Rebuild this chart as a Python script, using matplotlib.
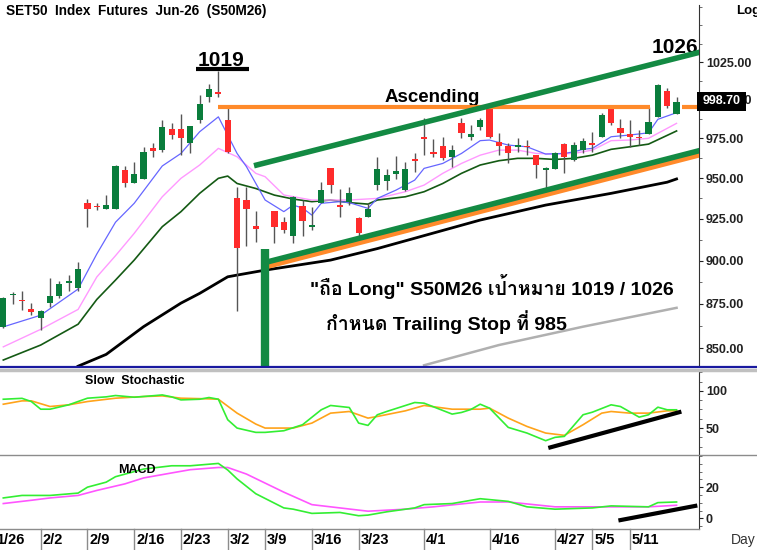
import numpy as np
import matplotlib
matplotlib.use("Agg")
import matplotlib.pyplot as plt
import matplotlib.transforms as mtransforms
from matplotlib import font_manager, ft2font
from matplotlib.patches import Rectangle
from matplotlib.lines import Line2D

nan = np.nan

# ---- candles, x = trading-day index (0 = first bar shown) ----
opens = [861.8, 879.8, 876.9, 872.2, 866.7, 875.3, 879.2, 887.2, 883.9, 934.9,
         932.6, 930.8, 930.8, 955.1, 947.1, 949.2, 969.1, 967.6, 980.9, 980.9,
         972.3, 986.8, 1001.6, 1005.1, 986.8, 937.9, 936.5, 920.7, nan, 930.0,
         923.3, 914.7, 932.8, 919.9, 934.5, 956.1, 933.4, 935.5, 925.3, 925.9,
         945.7, 948.4, 952.6, 942.6, 961.3, 975.7, 966.2, 970.1, 963.4, 984.6,
         976.1, 982.1, 994.4, 972.9, 970.1, 969.8, 970.4, 964.4, 955.1, 955.5,
         971.3, 961.3, 967.6, 972.3, 976.1, 994.4, 981.9, 977.6, 976.1, 977.8,
         989.1, 1005.9, 990.7]
highs = [879.0, 882.0, 882.5, 875.7, 871.2, 889.9, 888.0, 891.6, 899.4, 937.1,
         934.5, 939.5, 958.2, 957.6, 959.9, 969.4, 971.9, 986.8, 984.7, 990.5,
         983.1, 1003.1, 1010.2, 1019.0, 994.4, 944.6, 944.6, 930.0, nan, 930.0,
         926.3, 938.9, 936.5, 932.2, 947.7, 956.5, 943.0, 944.3, 926.3, 934.9,
         963.2, 955.9, 963.6, 960.0, 965.5, 987.9, 974.4, 976.1, 970.8, 987.9,
         983.7, 987.9, 995.5, 978.3, 971.9, 975.1, 974.0, 964.4, 957.2, 966.5,
         971.9, 972.9, 975.1, 979.3, 991.1, 995.9, 987.3, 986.8, 980.4, 995.1,
         1010.5, 1007.5, 1002.0]
lows = [861.0, 874.9, 871.4, 868.6, 860.1, 873.3, 878.2, 882.5, 882.5, 919.9,
        930.4, 930.8, 930.8, 944.6, 947.1, 949.2, 963.3, 966.5, 974.4, 964.8,
        965.5, 984.7, 998.6, 1002.0, 965.5, 871.0, 908.7, 911.3, nan, 910.3,
        916.3, 910.3, 914.7, 918.3, 934.5, 940.6, 926.3, 933.4, 913.3, 925.9,
        942.6, 942.6, 949.2, 941.8, 954.0, 964.4, 963.2, 961.1, 956.8, 975.1,
        974.0, 980.4, 975.5, 964.3, 959.2, 966.5, 964.3, 949.9, 943.0, 955.5,
        953.4, 960.9, 965.5, 966.5, 976.1, 983.5, 975.1, 969.7, 970.8, 977.8,
        989.1, 994.4, 990.7]
closes = [878.3, 880.3, 876.4, 870.3, 870.8, 879.5, 886.4, 887.8, 895.1, 930.8,
          932.2, 933.3, 957.7, 946.7, 952.4, 966.2, 967.2, 982.5, 977.2, 975.1,
          983.1, 997.0, 1007.1, 1003.8, 966.5, 907.5, 930.8, 918.9, nan, 920.1,
          918.3, 938.5, 923.9, 921.1, 942.6, 945.7, 932.0, 940.6, 916.3, 930.8,
          955.5, 951.8, 954.3, 955.9, 960.9, 974.4, 965.3, 962.4, 967.6, 978.3,
          977.8, 986.8, 976.1, 970.4, 965.5, 970.4, 969.4, 958.2, 956.2, 965.9,
          963.4, 970.8, 973.6, 970.8, 990.0, 985.0, 978.3, 976.1, 975.1, 985.8,
          1009.6, 995.9, 998.7]

# moving averages (index, value) read at sample points
ma_blue_x = [0, 4, 8, 10, 12, 14, 17, 19, 21, 23, 25, 26, 28, 30, 31, 32, 33, 34, 36,
             37, 39, 40, 42, 44, 45, 47, 49, 51, 52, 54, 56, 58, 60, 61, 62, 63, 65,
             67, 69, 70, 72]
ma_blue = [861.9, 868.5, 883.5, 904.0, 923.0, 934.5, 957.6, 965.5, 979.3, 988.9,
           965.5, 957.2, 936.5, 929.4, 933.4, 931.6, 927.3, 934.5, 935.5, 934.9,
           931.4, 937.5, 942.6, 948.8, 956.1, 959.2, 965.5, 973.6, 974.0, 970.8,
           969.7, 965.1, 965.5, 966.5, 968.1, 968.7, 976.1, 977.2, 978.6, 987.3,
           991.6]
ma_pink_x = [0, 4, 8, 10, 12, 14, 17, 19, 21, 23, 25, 27, 28, 30, 33, 35, 37, 40, 43,
             45, 47, 49, 51, 53, 55, 57, 59, 61, 63, 65, 67, 69, 72]
ma_pink = [850.7, 860.5, 871.8, 890.5, 903.0, 916.3, 938.5, 949.9, 958.2, 968.7,
           963.4, 953.0, 950.9, 939.6, 936.5, 936.5, 936.5, 937.5, 941.6, 945.7,
           953.0, 959.2, 964.4, 967.6, 967.6, 965.5, 965.1, 965.5, 967.6, 973.6,
           974.0, 975.1, 984.7]
ma_dgreen_x = [0, 4, 8, 10, 12, 14, 17, 19, 21, 23, 24, 25, 27, 29, 31, 33, 35, 37, 39,
               40, 43, 45, 47, 49, 51, 53, 55, 57, 59, 61, 63, 65, 67, 69, 72]
ma_dgreen = [843.4, 851.7, 863.4, 877.5, 888.7, 900.4, 920.3, 929.4, 940.6, 949.9,
             951.3, 946.7, 943.6, 939.5, 937.1, 935.5, 936.5, 934.9, 934.0, 936.5,
             938.5, 941.6, 946.7, 953.0, 958.2, 960.9, 962.4, 962.4, 961.7, 962.4,
             964.4, 968.1, 969.7, 971.4, 979.8]
ma_black_x = [8, 11, 15, 19, 21, 24, 25, 28, 35, 40, 51, 58, 65, 71, 72]
ma_black = [840.0, 846.5, 862.0, 875.4, 881.0, 890.6, 891.6, 894.5, 900.4, 907.2,
            924.3, 933.4, 940.6, 947.5, 949.5]
ma_gray_x = [45, 53, 62, 72]
ma_gray = [840.5, 851.7, 862.0, 872.7]

# trend lines / levels drawn on the chart
upper_x, upper_y = [27.1, 74.4], [958.2, 1031.5]
lower_x, lower_y = [28.3, 74.4], [899.4, 967.2]
lower_or_y = [896.9, 964.6]
resist_x, resist_y = [23.0, 69.2], [995.5, 995.5]
resist2_x = [72.6, 74.4]
marker_x, marker_top = 28, 906.8
peak_x, peak_y = [20.6, 26.3], 1020.3
last_price = 998.70

# slow stochastic
stk_x = [0, 2, 3, 4, 5, 7, 9, 11, 12, 14, 16, 17, 18, 19, 21, 22, 23, 24, 25, 27, 28,
         30, 32, 34, 35, 37, 38, 39, 40, 41, 44, 45, 48, 49, 50, 51, 52, 54, 56, 58,
         59, 60, 62, 63, 65, 66, 68, 69, 70, 71, 72]
stk_k = [88.8, 90.0, 85.7, 75.4, 75.4, 81.3, 90.2, 92.0, 93.8, 91.5, 93.5, 94.6, 92.0,
         87.9, 88.8, 91.1, 88.8, 61.2, 50.0, 44.2, 44.2, 46.4, 54.5, 74.6, 80.4, 77.7,
         56.7, 53.6, 67.9, 72.3, 84.4, 83.5, 68.8, 71.0, 75.0, 82.1, 76.8, 50.9, 43.3,
         33.0, 37.5, 38.8, 67.9, 71.4, 81.3, 79.0, 64.7, 67.9, 78.1, 74.6, 74.6]
std_x = [0, 2, 3, 5, 7, 9, 12, 15, 17, 19, 22, 23, 25, 27, 28, 31, 33, 35, 37, 39, 40,
         43, 45, 48, 51, 52, 54, 56, 58, 60, 62, 64, 65, 67, 69, 71, 72]
std_d = [82.1, 86.6, 86.6, 79.0, 81.3, 85.7, 90.2, 92.4, 93.3, 90.2, 89.3, 88.8, 70.1,
         55.4, 50.0, 50.0, 56.7, 70.1, 72.3, 63.4, 65.6, 73.2, 80.4, 75.4, 75.4, 76.8,
         63.4, 52.2, 43.3, 40.2, 54.5, 70.1, 72.3, 70.1, 70.1, 73.2, 73.2]
stoch_tl_x, stoch_tl_y = [58.5, 72.3], [24.0, 71.4]

# MACD
macd_x = [0, 2, 5, 8, 9, 11, 12, 15, 18, 20, 23, 24, 25, 27, 30, 31, 33, 36, 38, 39,
          41, 44, 45, 48, 51, 54, 56, 59, 63, 65, 69, 70, 72]
macd = [13.1, 14.7, 14.7, 16.2, 20.0, 23.2, 26.7, 31.6, 33.7, 33.7, 35.2, 31.0, 25.3,
        15.8, 6.7, 5.9, 3.2, 3.8, 1.7, 2.1, 4.2, 6.7, 8.8, 9.5, 12.6, 10.9, 7.4, 5.9,
        6.7, 8.0, 7.4, 10.1, 10.5]
sig_x = [0, 3, 5, 8, 10, 13, 15, 18, 20, 23, 24, 26, 30, 33, 36, 39, 43, 46, 51, 54,
         59, 64, 69, 72]
sig = [9.5, 11.6, 13.1, 14.7, 17.9, 22.1, 25.9, 29.1, 31.2, 32.6, 32.6, 28.4, 16.8,
       8.8, 6.7, 4.6, 5.9, 7.4, 10.5, 10.5, 7.4, 7.4, 7.4, 8.4]
macd_tl_x, macd_tl_y = [66, 74], [-1.1, 8.0]

# date axis
date_idx = [-1, 4, 9, 14, 19, 24, 28, 33, 38, 45, 52, 59, 63, 67]
date_lbl = ['1/26', '2/2', '2/9', '2/16', '2/23', '3/2', '3/9', '3/16', '3/23',
            '4/1', '4/16', '4/27', '5/5', '5/11']
price_ticks = [850, 875, 900, 925, 950, 975, 1000, 1025]


def find_thai():
    for f in font_manager.fontManager.ttflist:
        try:
            if 0x0E16 in ft2font.FT2Font(f.fname).get_charmap():
                return f.name
        except Exception:
            pass
    return 'DejaVu Sans'


thai = find_thai()
plt.rcParams['font.family'] = ['Liberation Sans', thai, 'DejaVu Sans']

W, H = 757, 550
fig = plt.figure(figsize=(W / 100, H / 100), dpi=100)
fig.patch.set_facecolor('white')


def box(top, bottom):
    return [0, 1 - bottom / H, 699 / W, (bottom - top) / H]


ax = fig.add_axes(box(5, 366))
ax_s = fig.add_axes(box(371, 454))
ax_m = fig.add_axes(box(455, 529))
XL = (-0.353, 74.4)

GREEN = '#0a7d3c'
RED = '#ff2b2b'
TL_GREEN = '#138a43'
ORANGE = '#ff8a2a'

for a in (ax, ax_s, ax_m):
    a.set_xlim(*XL)
    for s in ('top', 'left', 'bottom'):
        a.spines[s].set_visible(False)
    a.spines['right'].set_color('#333333')
    a.set_xticks([])
    a.yaxis.tick_right()
    a.tick_params(axis='y', which='major', length=3, pad=2, labelsize=9, colors='#222222')
    a.tick_params(axis='y', which='minor', length=2, color='#555555')
    a.patch.set_alpha(0)

# ---- main price panel ----
ax.set_yscale('log')
ax.set_ylim(840.1, 1064)
ax.yaxis.set_major_locator(matplotlib.ticker.FixedLocator(price_ticks))
ax.yaxis.set_minor_locator(matplotlib.ticker.FixedLocator(np.arange(850, 1065, 12.5)))
ax.yaxis.set_minor_formatter(matplotlib.ticker.NullFormatter())
ax.set_yticklabels(['%.2f' % v for v in price_ticks], fontweight='bold')

o = np.array(opens); hi = np.array(highs); lo = np.array(lows); c = np.array(closes)
idx = np.arange(len(o))
ok = ~np.isnan(o)
ax.vlines(idx[ok], lo[ok], hi[ok], color='#555555', lw=1, zorder=3)
up = ok & (c >= o)
dn = ok & (c < o)
bot = np.minimum(o, c)
ht = np.maximum(np.abs(c - o), 0.9)
ax.bar(idx[up], ht[up], bottom=bot[up], width=0.66, color=GREEN, zorder=4, linewidth=0)
ax.bar(idx[dn], ht[dn], bottom=bot[dn], width=0.66, color=RED, zorder=4, linewidth=0)

ax.plot(ma_gray_x, ma_gray, color='#b0b0b0', lw=1.8, zorder=2)
ax.plot(ma_black_x, ma_black, color='black', lw=2, zorder=2)
ax.plot(ma_dgreen_x, ma_dgreen, color='#145a14', lw=1.2, zorder=2)
ax.plot(ma_pink_x, ma_pink, color='#ff99ff', lw=1, zorder=2)
ax.plot(ma_blue_x, ma_blue, color='#6666ff', lw=0.9, zorder=2)

ax.plot(resist_x, resist_y, color=ORANGE, lw=3, zorder=5, solid_capstyle='butt')
ax.plot(resist2_x, resist_y, color=ORANGE, lw=3, zorder=5, solid_capstyle='butt', clip_on=False)
ax.plot(upper_x, upper_y, color=TL_GREEN, lw=4, zorder=5)
ax.plot(lower_x, lower_or_y, color=ORANGE, lw=4, zorder=5)
ax.plot(lower_x, lower_y, color=TL_GREEN, lw=4, zorder=6)
ax.vlines(marker_x, 800, marker_top, color=TL_GREEN, lw=6, zorder=6)
ax.plot(peak_x, [peak_y, peak_y], color='black', lw=3, zorder=6, solid_capstyle='butt')

ax.text(23.3, 1022.5, '1019', fontsize=15, fontweight='bold', ha='center', va='baseline')
ax.text(71.8, 1031.3, '1026', fontsize=15, fontweight='bold', ha='center', va='baseline')
ax.text(40.8, 998.6, 'Ascending', fontsize=13.5, fontweight='bold', ha='left', va='baseline')
ax.text(32.8, 879.9, '"ถือ Long" S50M26 เป้าหมาย 1019 / 1026', fontsize=14,
        fontweight='bold', ha='left', va='baseline')
ax.text(34.5, 860.1, 'กำหนด Trailing Stop ที่ 985', fontsize=14,
        fontweight='bold', ha='left', va='baseline')

# ---- slow stochastic ----
ax_s.set_ylim(15.1, 126.8)
ax_s.set_yticks([50, 100])
ax_s.set_yticklabels(['50', '100'], fontweight='bold')
ax_s.yaxis.set_minor_locator(matplotlib.ticker.MultipleLocator(12.5))
ax_s.plot(std_x, std_d, color='#ffa31a', lw=1.2)
ax_s.plot(stk_x, stk_k, color='#33ee33', lw=1.2)
ax_s.plot(stoch_tl_x, stoch_tl_y, color='black', lw=3)
ax_s.text(8.7, 114, 'Slow  Stochastic', fontsize=9, fontweight='bold', va='center')

# ---- MACD ----
ax_m.set_ylim(-6.8, 40.6)
ax_m.set_yticks([0, 20])
ax_m.set_yticklabels(['0', '20'], fontweight='bold')
ax_m.yaxis.set_minor_locator(matplotlib.ticker.MultipleLocator(5))
ax_m.plot(sig_x, sig, color='#ff55ff', lw=1.2)
ax_m.plot(macd_x, macd, color='#33ee33', lw=1.2)
ax_m.plot(macd_tl_x, macd_tl_y, color='black', lw=3, clip_on=False)
ax_m.text(12.3, 31.0, 'MACD', fontsize=9, fontweight='bold', va='center')

# separators
fig.add_artist(Line2D([0, 1], [1 - 367 / H] * 2, color='#1a1aa0', lw=1.6))
fig.add_artist(Line2D([0, 1], [1 - 369.5 / H] * 2, color='#c0c0c0', lw=2.5))
fig.add_artist(Line2D([0, 1], [1 - 454.5 / H] * 2, color='#8c8c8c', lw=1))
fig.add_artist(Line2D([0, 699 / W], [1 - 529 / H] * 2, color='#8c8c8c', lw=1))

# date axis
trans = mtransforms.blended_transform_factory(ax_m.transData, fig.transFigure)
for i, lab in zip(date_idx, date_lbl):
    ax_m.add_line(Line2D([i, i], [1 - 529 / H, 0], transform=trans, color='#8c8c8c',
                         lw=1, clip_on=False))
    ax_m.text(i + 0.2, 1 - 540 / H, lab, transform=trans, fontsize=10.5, fontweight='bold',
              ha='left', va='center', clip_on=False)
fig.text(731 / W, 1 - 540 / H, 'Day', fontsize=10, va='center', color='#333333')

# header texts
fig.text(6 / W, 1 - 11 / H, 'SET50  Index  Futures  Jun-26  (S50M26)', fontsize=9.8,
         fontweight='bold', va='center')
fig.text(736 / W, 1 - 11 / H, 'Log', fontsize=9.5, fontweight='bold', va='center')

# last price box
fig.add_artist(Rectangle((697 / W, 1 - 111 / H), 49 / W, 19 / H, transform=fig.transFigure,
                         facecolor='black', edgecolor='none', zorder=10))
fig.text(721.5 / W, 1 - 101.5 / H, '%.2f' % last_price, color='white', fontsize=9,
         fontweight='bold', ha='center', va='center', zorder=11)

fig.savefig('out.png', dpi=100)
